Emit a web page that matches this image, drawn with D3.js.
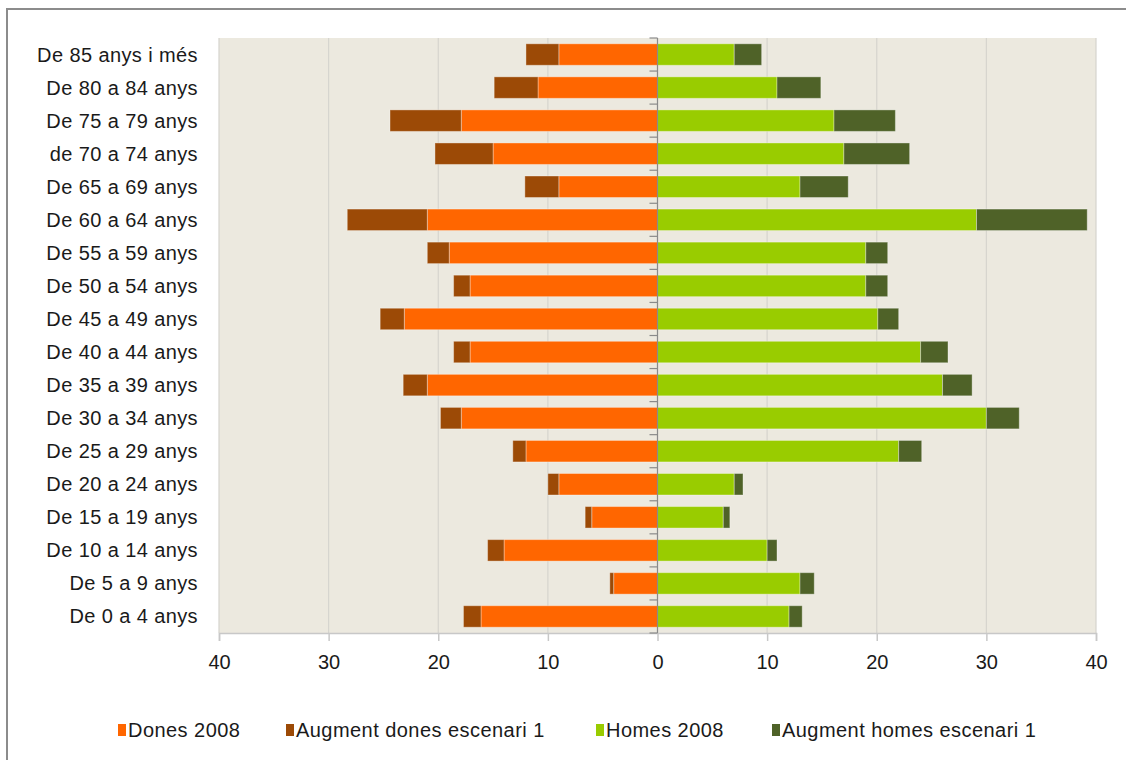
<!DOCTYPE html>
<html><head><meta charset="utf-8">
<script src="https://cdn.jsdelivr.net/npm/d3@7"></script>
<style>
html,body{margin:0;padding:0;background:#fff;}
svg text{font-family:"Liberation Sans",Arial,sans-serif;fill:#1a1a1a;}
</style></head>
<body><svg id="c" width="1126" height="760"></svg>
<script>
const categories = ["De 85 anys i més","De 80 a 84 anys","De 75 a 79 anys","de 70 a 74 anys","De 65 a 69 anys","De 60 a 64 anys","De 55 a 59 anys","De 50 a 54 anys","De 45 a 49 anys","De 40 a 44 anys","De 35 a 39 anys","De 30 a 34 anys","De 25 a 29 anys","De 20 a 24 anys","De 15 a 19 anys","De 10 a 14 anys","De 5 a 9 anys","De 0 a 4 anys"];
const dones2008 =   [9, 10.9, 17.9, 15, 9, 21, 19, 17.1, 23.1, 17.1, 21, 17.9, 12, 9, 6, 14, 4, 16.1];
const augDones =    [3, 4, 6.5, 5.3, 3.1, 7.3, 2, 1.5, 2.2, 1.5, 2.2, 1.9, 1.2, 1, 0.6, 1.5, 0.35, 1.6];
const homes2008 =   [7, 10.9, 16.1, 17, 13, 29.1, 19, 19, 20.1, 24, 26, 30, 22, 7, 6, 10, 13, 12];
const augHomes =    [2.5, 4, 5.6, 6, 4.4, 10.1, 2, 2, 1.9, 2.5, 2.7, 3, 2.1, 0.8, 0.6, 0.9, 1.3, 1.2];
const xTicks = [-40,-30,-20,-10,0,10,20,30,40];
const seriesNames = ["Dones 2008","Augment dones escenari 1","Homes 2008","Augment homes escenari 1"];
const colors = ["#FF6600","#9C4A06","#99CC00","#4F6228"];

const svg = d3.select("#c");
// outer frame
svg.append("rect").attr("x",7).attr("y",9).attr("width",1200).attr("height",800)
  .attr("fill","none").attr("stroke","#8c8c8c").attr("stroke-width",2);

const x = d3.scaleLinear().domain([-40,40]).range([219,1096]);
const y = d3.scaleBand().domain(categories).range([38,633]).paddingInner(0.35).paddingOuter(0.175);

// plot background
svg.append("rect").attr("x",x(-40)).attr("y",38).attr("width",x(40)-x(-40)).attr("height",633-38).attr("fill","#ECE9DF");
// grid
svg.append("g").selectAll("line").data(xTicks).join("line")
  .attr("x1",d=>x(d)).attr("x2",d=>x(d)).attr("y1",38).attr("y2",633)
  .attr("stroke","#D6D4CE").attr("stroke-width",1.2);

const g = svg.append("g");
function bars(vals, offs, sign, color){
  g.append("g").selectAll("rect").data(categories).join("rect")
    .attr("x",(d,i)=> sign<0 ? x(-(offs[i]+vals[i])) : x(offs[i]))
    .attr("width",(d,i)=> Math.abs(x(vals[i])-x(0)))
    .attr("y",d=>y(d)).attr("height",y.bandwidth())
    .attr("fill",color).attr("stroke","rgba(255,255,255,0.35)").attr("stroke-width",1);
}
const zeros = categories.map(()=>0);
bars(dones2008, zeros, -1, colors[0]);
bars(augDones, dones2008, -1, colors[1]);
bars(homes2008, zeros, 1, colors[2]);
bars(augHomes, homes2008, 1, colors[3]);

// bottom axis
const xAxis = d3.axisBottom(x).tickValues(xTicks).tickFormat(d=>Math.abs(d)).tickSize(8).tickPadding(14);
const ax = svg.append("g").attr("transform","translate(0,633)").call(xAxis);
ax.select(".domain").attr("stroke","#C8C8C8").attr("stroke-width",1.5);
ax.selectAll(".tick line").attr("stroke","#C8C8C8").attr("stroke-width",1.5);
ax.selectAll("text").attr("font-size",20).attr("fill","#1a1a1a").attr("font-family","Liberation Sans, Arial, sans-serif");

// zero axis with band-boundary ticks
const bounds = categories.map(c=>y(c) - y.step()*y.paddingInner()/2).concat([633]);
svg.append("line").attr("x1",x(0)).attr("x2",x(0)).attr("y1",38).attr("y2",633).attr("stroke","#8A8A8A").attr("stroke-width",1.2);
svg.append("g").selectAll("line").data(bounds).join("line")
  .attr("x1",x(0)-8).attr("x2",x(0)).attr("y1",d=>d).attr("y2",d=>d)
  .attr("stroke","#8A8A8A").attr("stroke-width",1.2);

// category labels
svg.append("g").selectAll("text").data(categories).join("text")
  .attr("x",198).attr("y",d=>y(d)+y.bandwidth()/2).attr("dy","0.35em")
  .attr("text-anchor","end").attr("font-size",20).attr("letter-spacing",0.4).text(d=>d);

// legend
const legX = [118, 286, 596, 772];
const lg = svg.append("g");
seriesNames.forEach((n,i)=>{
  lg.append("rect").attr("x",legX[i]).attr("y",724).attr("width",8).attr("height",12).attr("fill",colors[i]);
  lg.append("text").attr("x",legX[i]+10).attr("y",730).attr("dy","0.35em").attr("font-size",20).attr("letter-spacing",0.45).text(n);
});
</script></body></html>
